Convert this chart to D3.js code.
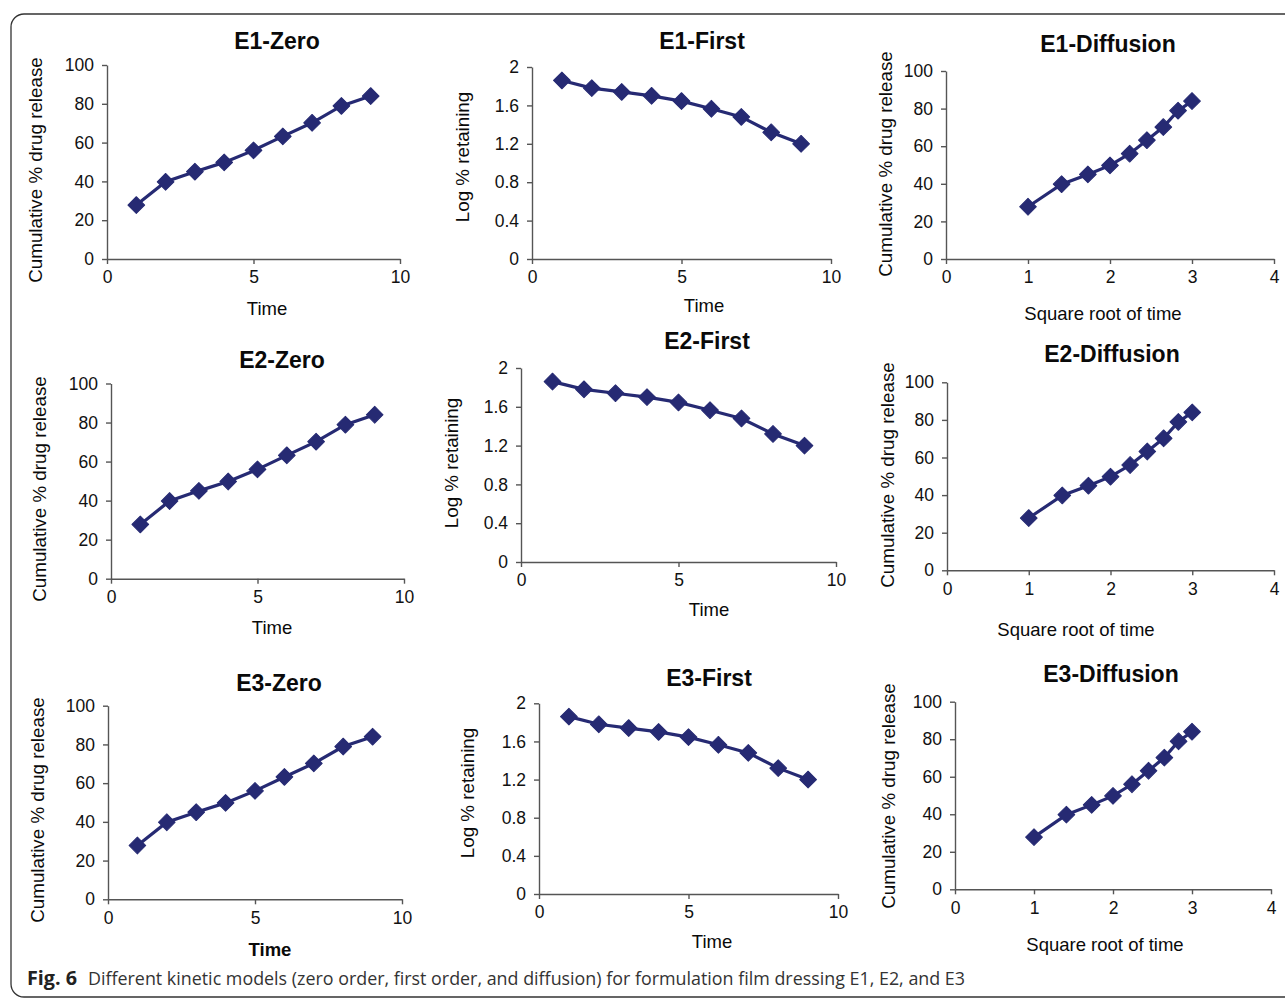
<!DOCTYPE html>
<html>
<head>
<meta charset="utf-8">
<script src="https://cdn.jsdelivr.net/npm/d3@7/dist/d3.min.js"></script>
<style>
  html, body { margin: 0; padding: 0; background: #fff; }
  svg { display: block; }
</style>
</head>
<body>
<svg id="chart" width="1285" height="999"></svg>
<script>
// ---------- data ----------
const formulations = ["E1", "E2", "E3"];
const timePoints = [1, 2, 3, 4, 5, 6, 7, 8, 9];
const sqrtTimePoints = [1, 1.41, 1.73, 2, 2.24, 2.45, 2.65, 2.83, 3];
const cumulativeRelease = [27.8, 39.8, 45, 49.8, 56, 63.2, 70.2, 78.9, 84];
const logRetaining = [1.86, 1.78, 1.74, 1.70, 1.645, 1.565, 1.48, 1.32, 1.20];
const zeroTicksX = [0, 5, 10];
const zeroTicksY = [0, 20, 40, 60, 80, 100];
const firstTicksY = [0, 0.4, 0.8, 1.2, 1.6, 2];
const diffTicksX = [0, 1, 2, 3, 4];
const captionBold = "Fig. 6";
const captionText = "Different kinetic models (zero order, first order, and diffusion) for formulation film dressing E1, E2, and E3";

// ---------- models ----------
const models = [
  { key: "Zero", x: timePoints, y: cumulativeRelease, xDomain: [0, 10], yDomain: [0, 100],
    xTicks: zeroTicksX, yTicks: zeroTicksY, xLabel: "Time", yLabel: "Cumulative % drug release" },
  { key: "First", x: timePoints, y: logRetaining, xDomain: [0, 10], yDomain: [0, 2],
    xTicks: zeroTicksX, yTicks: firstTicksY, xLabel: "Time", yLabel: "Log % retaining" },
  { key: "Diffusion", x: sqrtTimePoints, y: cumulativeRelease, xDomain: [0, 4], yDomain: [0, 100],
    xTicks: diffTicksX, yTicks: zeroTicksY, xLabel: "Square root of time", yLabel: "Cumulative % drug release" }
];

// ---------- layout (per panel, row-major) ----------
const layout = [
  { l: 107, r: 400, t: 65, b: 259, tx: 277, ty: 49, lx: 35, ly: 170, xx: 267, xy: 315 },
  { l: 532, r: 831, t: 67, b: 259, tx: 702, ty: 49, lx: 462, ly: 157, xx: 704, xy: 311.5 },
  { l: 946, r: 1274, t: 71, b: 259, tx: 1108, ty: 51.5, lx: 885, ly: 164, xx: 1103, xy: 320 },
  { l: 111, r: 404, t: 383.5, b: 578.7, tx: 282, ty: 368, lx: 39, ly: 489, xx: 272, xy: 634 },
  { l: 521, r: 836, t: 368, b: 562, tx: 707, ty: 349, lx: 451, ly: 463, xx: 709, xy: 616 },
  { l: 947, r: 1274, t: 382.3, b: 570.3, tx: 1112, ty: 362, lx: 887, ly: 475, xx: 1076, xy: 636 },
  { l: 108, r: 402, t: 705.7, b: 899.3, tx: 279, ty: 690.5, lx: 37, ly: 810, xx: 270, xy: 956, boldX: true },
  { l: 539, r: 838, t: 703.3, b: 894, tx: 709, ty: 685.5, lx: 467, ly: 793, xx: 712, xy: 947.5 },
  { l: 955, r: 1271, t: 701.7, b: 889.3, tx: 1111, ty: 681.5, lx: 888, ly: 796, xx: 1105, xy: 951 }
];

const NAVY = "#262a73";
const FONT = "'Liberation Sans', Arial, Helvetica, sans-serif";
const svg = d3.select("#chart");

// frame
svg.append("rect")
  .attr("x", 11).attr("y", 14).attr("width", 1320).attr("height", 983)
  .attr("rx", 13).attr("ry", 13)
  .attr("fill", "none").attr("stroke", "#333").attr("stroke-width", 1.3);

formulations.forEach((f, fi) => {
  models.forEach((m, mi) => {
    const L = layout[fi * 3 + mi];
    const g = svg.append("g");
    const x = d3.scaleLinear().domain(m.xDomain).range([L.l, L.r]);
    const y = d3.scaleLinear().domain(m.yDomain).range([L.b, L.t]);

    const xAxis = g.append("g").attr("transform", `translate(0,${L.b})`)
      .call(d3.axisBottom(x).tickValues(m.xTicks).tickSize(5).tickPadding(7).tickSizeOuter(0)
        .tickFormat(d3.format("")));
    const yAxis = g.append("g").attr("transform", `translate(${L.l},0)`)
      .call(d3.axisLeft(y).tickValues(m.yTicks).tickSize(5).tickPadding(8).tickSizeOuter(0)
        .tickFormat(d => String(d)));
    [xAxis, yAxis].forEach(a => {
      a.select(".domain").attr("stroke", "#555").attr("stroke-width", 1.4);
      a.selectAll(".tick line").attr("stroke", "#555").attr("stroke-width", 1.4);
      a.selectAll(".tick text").attr("fill", "#111")
        .style("font-family", FONT).style("font-size", "17.5px");
    });

    // title
    g.append("text").attr("x", L.tx).attr("y", L.ty).attr("text-anchor", "middle")
      .style("font-family", FONT).style("font-size", "23px").style("font-weight", "bold")
      .attr("fill", "#0a0a0a").text(`${f}-${m.key}`);
    // x label
    g.append("text").attr("x", L.xx).attr("y", L.xy).attr("text-anchor", "middle")
      .style("font-family", FONT).style("font-size", "18.5px")
      .style("font-weight", L.boldX ? "bold" : "normal")
      .attr("fill", "#0a0a0a").text(m.xLabel);
    // y label
    g.append("text").attr("transform", `translate(${L.lx},${L.ly}) rotate(-90)`)
      .attr("text-anchor", "middle").attr("dy", "0.36em")
      .style("font-family", FONT).style("font-size", "18.8px")
      .attr("fill", "#0a0a0a").text(m.yLabel);

    const pts = m.x.map((xv, i) => [xv, m.y[i]]);
    g.append("path").datum(pts)
      .attr("fill", "none").attr("stroke", NAVY).attr("stroke-width", 3.2)
      .attr("d", d3.line().x(d => x(d[0])).y(d => y(d[1])));
    g.selectAll("path.mk").data(pts).enter().append("path").attr("class", "mk")
      .attr("transform", d => `translate(${x(d[0])},${y(d[1])}) rotate(45)`)
      .attr("d", d3.symbol().type(d3.symbolSquare).size(140))
      .attr("fill", NAVY).attr("stroke", NAVY).attr("stroke-width", 1).attr("stroke-linejoin", "round");
  });
});

// caption
const cap = svg.append("text").attr("x", 27).attr("y", 985)
  .style("font-family", "'Open Sans', 'Noto Sans', sans-serif").style("font-size", "19px").attr("fill", "#333");
cap.append("tspan").style("font-weight", "bold").attr("fill", "#222").text(captionBold)
  .attr("textLength", 50).attr("lengthAdjust", "spacingAndGlyphs");
cap.append("tspan").attr("x", 88).text(captionText)
  .attr("textLength", 877).attr("lengthAdjust", "spacingAndGlyphs");
</script>
</body>
</html>
